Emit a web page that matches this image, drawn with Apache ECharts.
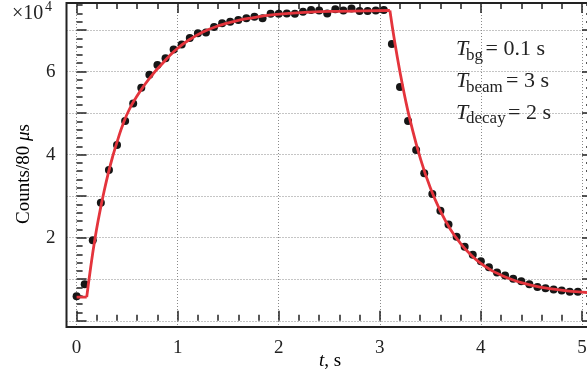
<!DOCTYPE html>
<html>
<head>
<meta charset="utf-8">
<script src="https://cdn.jsdelivr.net/npm/echarts@6/dist/echarts.min.js"></script>
<style>
  html, body { margin: 0; padding: 0; background: #fff; }
  #chart { width: 587px; height: 373px; }
</style>
</head>
<body>
<div id="chart"></div>
<script>
// Measured counts per 80 µs bin (in units of 10^4), sampled every 0.08 s
const times = [
  0.00, 0.08, 0.16, 0.24, 0.32, 0.40, 0.48, 0.56, 0.64, 0.72,
  0.80, 0.88, 0.96, 1.04, 1.12, 1.20, 1.28, 1.36, 1.44, 1.52,
  1.60, 1.68, 1.76, 1.84, 1.92, 2.00, 2.08, 2.16, 2.24, 2.32,
  2.40, 2.48, 2.56, 2.64, 2.72, 2.80, 2.88, 2.96, 3.04, 3.12,
  3.20, 3.28, 3.36, 3.44, 3.52, 3.60, 3.68, 3.76, 3.84, 3.92,
  4.00, 4.08, 4.16, 4.24, 4.32, 4.40, 4.48, 4.56, 4.64, 4.72,
  4.80, 4.88, 4.96
];
const counts = [
  0.59, 0.88, 1.94, 2.84, 3.63, 4.23, 4.81, 5.23, 5.61, 5.92,
  6.16, 6.32, 6.53, 6.65, 6.81, 6.92, 6.94, 7.07, 7.16, 7.20,
  7.24, 7.28, 7.32, 7.28, 7.39, 7.39, 7.40, 7.39, 7.44, 7.48,
  7.47, 7.40, 7.50, 7.47, 7.52, 7.46, 7.46, 7.47, 7.48, 6.66,
  5.63, 4.81, 4.11, 3.55, 3.05, 2.65, 2.32, 2.02, 1.78, 1.59,
  1.43, 1.29, 1.16, 1.09, 1.01, 0.95, 0.88, 0.81, 0.78, 0.75,
  0.73, 0.70, 0.70
];

// Fitted model: background, beam-on build-up, beam-off decay
const fitBgT = [0.00, 0.10];
const fitBgV = [0.57, 0.57];
const fitRiseT = [0.10, 0.14, 0.18, 0.22, 0.26, 0.31, 0.36, 0.41, 0.46, 0.52,
                  0.59, 0.67, 0.755, 0.84, 0.92, 1.00, 1.10, 1.25, 1.40, 1.58,
                  1.75, 1.91, 2.10, 2.30, 2.57, 2.85, 3.10];
const fitRiseV = [0.57, 1.30, 1.95, 2.50, 2.98, 3.52, 3.98, 4.38, 4.74, 5.08,
                  5.38, 5.67, 5.94, 6.17, 6.38, 6.56, 6.74, 6.95, 7.10, 7.22,
                  7.30, 7.36, 7.40, 7.43, 7.45, 7.46, 7.47];
const fitDecayT = [3.10, 3.15, 3.20, 3.25, 3.30, 3.40, 3.50, 3.60, 3.70, 3.80,
                   3.90, 4.00, 4.10, 4.20, 4.30, 4.40, 4.55, 4.70, 4.85, 5.00, 5.10];
const fitDecayV = [7.47, 6.68, 5.99, 5.37, 4.83, 3.92, 3.20, 2.64, 2.20, 1.86,
                   1.59, 1.38, 1.22, 1.10, 1.00, 0.92, 0.83, 0.77, 0.72, 0.69, 0.67];

const xLabels = [0, 1, 2, 3, 4, 5];
const yLabels = [2, 4, 6];

const pairs = (xs, ys) => xs.map((x, i) => [x, ys[i]]);

const serif = '"Liberation Serif", "DejaVu Serif", serif';
const ink = '#222';
const red = '#e4343c';
const gridDots = { color: '#8a8a8a', width: 1, type: [1, 2] };
const tickLine = { color: ink, width: 1.5 };

const chart = echarts.init(document.getElementById('chart'), null, { renderer: 'canvas' });

// Plot frame: 66.5..592 px horizontally (x from -0.1 to 5.1), 3..327 px vertically (y from -0.15 to 7.65)
const frame = { left: 66.5, top: 3, width: 525.5, height: 324 };
const pxPerX = frame.width / 5.2;
const pxPerY = frame.height / 7.8;
const x0px = frame.left + 0.1 * pxPerX;
const y0px = frame.top + 7.65 * pxPerY;

const lineSeries = (xs, ys, smooth) => ({
  type: 'line', xAxisIndex: 0, yAxisIndex: 0, data: pairs(xs, ys),
  smooth: smooth, showSymbol: false, lineStyle: { color: red, width: 2.8 }, z: 5
});

chart.setOption({
  animation: false,
  backgroundColor: '#fff',
  grid: [
    { left: frame.left, top: frame.top, width: frame.width, height: frame.height,
      outerBoundsMode: 'none', containLabel: false,
      show: true, borderColor: ink, borderWidth: 2, backgroundColor: 'transparent', z: 3 },
    // x tick frame: starts at t = 0
    { left: x0px, top: frame.top, width: 6 * pxPerX, height: frame.height,
      outerBoundsMode: 'none', containLabel: false },
    // y tick frame: starts at counts = 0
    { left: frame.left, top: y0px - 8 * pxPerY, width: frame.width, height: 8 * pxPerY,
      outerBoundsMode: 'none', containLabel: false }
  ],
  xAxis: [
    { gridIndex: 0, type: 'value', min: -0.1, max: 5.1, show: false },
    { gridIndex: 1, type: 'value', min: 0, max: 6, interval: 1, position: 'bottom',
      axisLine: { show: false },
      axisTick: { show: true, inside: true, length: 10, lineStyle: tickLine },
      minorTick: { show: true, splitNumber: 5, length: 6, lineStyle: tickLine },
      splitLine: { show: true, lineStyle: gridDots },
      axisLabel: { show: true, margin: 12, fontFamily: serif, fontSize: 19, color: ink,
        formatter: v => (xLabels.indexOf(v) >= 0 ? String(v) : '') } },
    { gridIndex: 1, type: 'value', min: 0, max: 6, interval: 1, position: 'top',
      axisLine: { show: false },
      axisTick: { show: true, inside: true, length: 10, lineStyle: tickLine },
      minorTick: { show: true, splitNumber: 5, length: 6, lineStyle: tickLine },
      splitLine: { show: false }, axisLabel: { show: false } },
    { gridIndex: 2, type: 'value', min: -0.1, max: 5.1, show: false }
  ],
  yAxis: [
    { gridIndex: 0, type: 'value', min: -0.15, max: 7.65, show: false },
    { gridIndex: 1, type: 'value', min: -0.15, max: 7.65, show: false },
    { gridIndex: 2, type: 'value', min: 0, max: 8, interval: 1, position: 'left',
      axisLine: { show: false },
      axisTick: { show: true, inside: true, length: 10, lineStyle: tickLine },
      minorTick: { show: true, splitNumber: 5, length: 6, lineStyle: tickLine },
      splitLine: { show: true, lineStyle: gridDots },
      axisLabel: { show: true, margin: 11, fontFamily: serif, fontSize: 19, color: ink,
        formatter: v => (yLabels.indexOf(v) >= 0 ? String(v) : '') } },
    { gridIndex: 2, type: 'value', min: 0, max: 8, interval: 1, position: 'right',
      axisLine: { show: false },
      axisTick: { show: true, inside: true, length: 10, lineStyle: tickLine },
      minorTick: { show: true, splitNumber: 5, length: 6, lineStyle: tickLine },
      splitLine: { show: false }, axisLabel: { show: false } }
  ],
  series: [
    { type: 'scatter', xAxisIndex: 0, yAxisIndex: 0, data: pairs(times, counts),
      symbol: 'circle', symbolSize: 8, itemStyle: { color: '#161616', opacity: 1 }, z: 4 },
    lineSeries(fitBgT, fitBgV, false),
    lineSeries(fitRiseT, fitRiseV, 0.5),
    lineSeries(fitDecayT, fitDecayV, 0.5)
  ],
  graphic: [
    // axis multiplier
    { type: 'text', left: 12, top: 4, z: 10,
      style: { text: '×10', font: '20px ' + serif, fill: ink } },
    { type: 'text', left: 45, top: 0, z: 10,
      style: { text: '4', font: '14px ' + serif, fill: ink } },
    // y-axis title
    { type: 'text', x: 24, y: 174, rotation: Math.PI / 2, z: 10,
      style: { text: '{n|Counts/80 }{i|μ}{n|s}', align: 'center', verticalAlign: 'middle',
        rich: { n: { fontFamily: serif, fontSize: 19, color: ink },
                i: { fontFamily: serif, fontSize: 19, fontStyle: 'italic', color: ink } } } },
    // x-axis title
    { type: 'text', x: 330, y: 361, z: 10,
      style: { text: '{i|t}{n|, s}', align: 'center', verticalAlign: 'middle',
        rich: { n: { fontFamily: serif, fontSize: 19, color: ink },
                i: { fontFamily: serif, fontSize: 19, fontStyle: 'italic', color: ink } } } },
    // run parameters
    { type: 'text', x: 456, y: 49, z: 10, style: { text: 'T', font: 'italic 22px ' + serif, fill: ink, verticalAlign: 'middle' } },
    { type: 'text', x: 466, y: 56, z: 10, style: { text: 'bg', font: '17px ' + serif, fill: ink, verticalAlign: 'middle' } },
    { type: 'text', x: 485.5, y: 49, z: 10, style: { text: '= 0.1 s', font: '22px ' + serif, fill: ink, verticalAlign: 'middle' } },
    { type: 'text', x: 456, y: 81, z: 10, style: { text: 'T', font: 'italic 22px ' + serif, fill: ink, verticalAlign: 'middle' } },
    { type: 'text', x: 466, y: 88, z: 10, style: { text: 'beam', font: '17px ' + serif, fill: ink, verticalAlign: 'middle' } },
    { type: 'text', x: 506, y: 81, z: 10, style: { text: '= 3 s', font: '22px ' + serif, fill: ink, verticalAlign: 'middle' } },
    { type: 'text', x: 456, y: 113, z: 10, style: { text: 'T', font: 'italic 22px ' + serif, fill: ink, verticalAlign: 'middle' } },
    { type: 'text', x: 466, y: 119, z: 10, style: { text: 'decay', font: '17px ' + serif, fill: ink, verticalAlign: 'middle' } },
    { type: 'text', x: 508, y: 113, z: 10, style: { text: '= 2 s', font: '22px ' + serif, fill: ink, verticalAlign: 'middle' } }
  ]
});
</script>
</body>
</html>
